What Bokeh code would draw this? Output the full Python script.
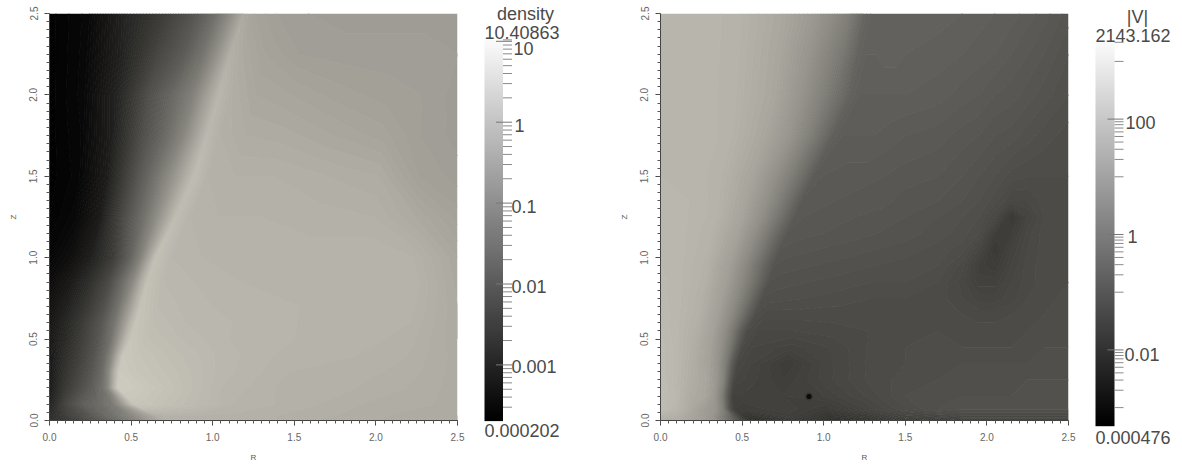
from bokeh.core.properties import value
from bokeh.embed import file_html
from bokeh.layouts import column, row
from bokeh.models import NumeralTickFormatter, LinearColorMapper, Range1d, SingleIntervalTicker
from bokeh.plotting import figure
from bokeh.resources import INLINE
import numpy as np

# Left panel: each row follows the bright ridge. Values are grey levels (0-255),
# at fractions of the way from R=0 to the ridge (8 values) and from the ridge to R=2.5 (7 values).
density_z = [2.5, 2.25, 2.0, 1.75, 1.5, 1.25, 1.0, .85, .7, .6, .5, .4, .3, .2, .1, .03, 0]
density_ridge_R = [1.19, 1.11, 1.04, .965, .89, .775, .65, .6, .56, .53, .5, .45, .43, .42, .52, .65, .75]
density_grey = [
 [3,9,38,62,85,108,138,168, 162,158,156,155,155,155,155],
 [3,9,35,70,92,115,145,174, 168,162,158,157,157,157,156],
 [3,9,36,82,108,128,158,180, 172,166,164,161,159,158,155],
 [3,8,32,80,108,132,160,182, 174,170,169,166,163,158,155],
 [3,7,30,82,118,145,168,186, 176,174,174,172,170,160,157],
 [4,9,28,78,112,140,166,186, 178,176,176,175,174,168,161],
 [8,16,33,60,95,125,160,190, 180,178,178,177,178,176,166],
 [14,26,45,72,108,135,168,190, 182,180,178,178,178,178,167],
 [20,34,54,80,112,145,172,192, 184,181,179,178,178,177,168],
 [24,40,60,85,115,148,175,193, 186,182,180,178,177,176,168],
 [26,42,62,85,112,148,178,194, 188,184,180,178,177,175,168],
 [26,45,62,82,105,135,170,196, 192,187,181,177,176,174,169],
 [26,48,66,85,105,135,175,198, 194,189,181,176,175,173,169],
 [28,52,72,90,108,130,170,200, 198,191,180,175,174,172,169],
 [35,70,95,108,122,150,175,194, 192,186,178,175,172,171,169],
 [44,68,88,112,130,148,160,172, 176,176,175,173,171,169,168],
 [48,64,88,115,140,160,170,176, 176,176,175,172,170,169,168],
]
density_left_fraction = [0, .2, .4, .6, .75, .85, .93, 1]
density_right_fraction = [.05, .15, .3, .5, .7, .85, 1]

# Right panel: each row follows the edge between the light and the dark region.
speed_z = [2.5, 2.25, 2.0, 1.75, 1.5, 1.35, 1.25, 1.15, 1.05, .95, .85, .75, .65, .55, .45, .35, .25, .15, .07, .02, 0]
speed_edge_R = [1.24, 1.2, 1.16, 1.05, .93, .86, .82, .77, .73, .69, .66, .62, .58, .53, .5, .47, .45, .44, .45, .52, .55]
speed_grey = [
 [178,180,176,166,152,138,125,102, 97,97,97,98, 98,97,96,95,94,93,91,89,85],
 [178,180,176,165,148,132,118,100, 96,96,97,97, 96,95,94,93,92,90,88,86,82],
 [179,180,176,165,145,128,112,98, 94,94,94,94, 94,93,91,90,88,87,85,83,80],
 [180,180,177,165,148,130,112,96, 92,92,92,91, 90,89,87,86,84,83,81,79,77],
 [180,180,176,163,143,125,108,92, 90,89,89,88, 87,86,84,82,80,77,76,76,76],
 [181,180,177,163,143,124,106,90, 89,88,87,87, 85,84,82,80,77,72,72,75,76],
 [181,180,177,163,142,122,104,89, 88,87,86,85, 84,82,80,78,72,56,68,74,76],
 [182,180,176,162,140,120,102,88, 87,86,85,84, 83,81,79,76,62,62,71,75,76],
 [182,180,176,160,138,118,100,86, 85,84,83,82, 81,79,77,70,56,66,72,75,76],
 [182,180,175,158,135,115,98,84, 83,82,81,80, 79,78,73,63,60,68,73,75,76],
 [183,180,175,158,135,115,97,82, 81,80,79,78, 78,76,71,65,65,70,73,75,76],
 [183,180,174,158,135,115,96,80, 79,78,77,76, 76,75,72,69,69,71,74,75,77],
 [184,180,174,158,135,114,94,78, 75,75,75,75, 76,75,74,73,73,74,75,76,77],
 [184,180,173,160,138,115,92,76, 72,72,73,74, 76,76,75,75,75,75,76,77,78],
 [185,181,172,160,140,118,92,74, 70,67,70,74, 76,77,76,76,76,76,77,78,78],
 [185,181,172,162,145,122,90,72, 69,60,69,74, 76,77,78,78,78,78,78,79,79],
 [186,181,172,165,150,130,95,70, 68,62,69,74, 77,78,79,79,79,79,80,80,80],
 [186,182,170,165,150,125,90,66, 66,64,66,72, 78,79,80,80,80,80,81,81,81],
 [186,180,168,155,148,125,85,64, 62,66,60,68, 76,80,81,81,81,81,81,81,81],
 [176,172,162,150,120,95,70,55, 52,62,52,58, 66,68,70,70,70,70,70,70,70],
 [172,170,160,145,115,88,65,52, 48,58,48,52, 62,64,66,66,66,66,66,66,66],
]
speed_left_fraction = [0, .2, .4, .6, .75, .85, .93, 1]
speed_mid_fraction = [.25, .5, .75]
speed_fixed_R = [1.5, 1.7, 1.85, 1.95, 2.05, 2.15, 2.25, 2.35, 2.5]
speed_dark_spot_R = [0.91]
speed_dark_spot_Z = [0.147]

density_min, density_max = 0.000202, 10.40863
speed_min, speed_max = 0.000476, 2143.162
density_major = [10, 1, 0.1, 0.01, 0.001]
density_major_labels = ["10", "1", "0.1", "0.01", "0.001"]
density_minor = [10.40863, 9, 8, 7, 6, 5, 4, 3, 2, .9, .8, .7, .6, .5, .4, .3, .2, .09, .08, .07, .06, .05, .04,
                 .03, .02, .009, .008, .007, .006, .005, .004, .003, .002, .0009, .0008, .0007, .0006, .0005,
                 .0004, .0003]
speed_major = [100, 1, 0.01]
speed_major_labels = ["100", "1", "0.01"]
speed_minor = [2143.162, 1000, 90, 80, 70, 60, 50, 40, 30, 20, 10, .9, .8, .7, .6, .5, .4, .3, .2, .1,
               .009, .008, .007, .006, .005, .004, .003, .002, .001]


def warm(g):
    return "#%02x%02x%02x" % (min(255, round(g * 1.03)), min(255, round(g * 1.015)), round(g * 0.965))


LEVELS = list(range(0, 258, 2))
WARM = [warm(g) for g in LEVELS[:-1]]
WARM_LINES = [warm(g) for g in LEVELS]
GREY = ["#%02x%02x%02x" % (g, g, g) for g in range(256)]
FONT = "Liberation Sans"
H = 464


def panel(xs, ys, grid, width, left, right):
    p = figure(width=width, height=H, x_range=Range1d(0, 2.5), y_range=Range1d(0, 2.5),
               toolbar_location=None, output_backend="svg", min_border_left=left, min_border_right=right,
               min_border_top=13, min_border_bottom=43, x_axis_label="R", y_axis_label="Z")
    p.contour(xs, ys, np.array(grid, dtype=float), levels=LEVELS, fill_color=WARM, line_color=WARM_LINES, line_width=1.2)
    p.grid.visible = False
    p.outline_line_color = None
    for ax in (p.xaxis[0], p.yaxis[0]):
        ax.ticker = SingleIntervalTicker(interval=0.5, num_minor_ticks=10)
        ax.formatter = NumeralTickFormatter(format="0.0")
        ax.major_tick_in = 0
        ax.major_tick_out = 5
        ax.minor_tick_in = 0
        ax.minor_tick_out = 3
        ax.axis_line_color = "#444444"
        ax.major_tick_line_color = "#444444"
        ax.minor_tick_line_color = "#555555"
        ax.major_label_text_font = FONT
        ax.major_label_text_font_size = "10px"
        ax.major_label_text_color = "#666666"
        ax.axis_label_text_font = FONT
        ax.axis_label_text_font_size = "8px"
        ax.axis_label_text_font_style = "normal"
        ax.axis_label_text_color = "#555555"
        ax.axis_label_standoff = 9
        ax.major_label_standoff = 7
    p.yaxis[0].major_label_orientation = "vertical"
    return p


def bar(x0, width, bar_x, bar_w, decade_px, one_px, low, high, major, labels, minor, label_xs, label_offs, texts):
    to_val = lambda py: 10 ** ((one_px - py) / decade_px)
    p = figure(width=width, height=H, y_axis_type="log", x_range=Range1d(x0, x0 + width),
               y_range=Range1d(to_val(H), to_val(0)), toolbar_location=None, output_backend="svg",
               min_border=0, x_axis_location=None, y_axis_location=None, outline_line_color=None)
    ramp = np.linspace(0, 250, 256).reshape(-1, 1)
    p.image(image=[ramp], x=bar_x, y=low, dw=bar_w, dh=high - low,
            color_mapper=LinearColorMapper(palette=GREY, low=0, high=255))
    p.grid.visible = False
    right = bar_x + bar_w
    p.segment(x0=[right] * len(minor), x1=[right + 9] * len(minor), y0=minor, y1=minor, line_color="#8a8a8a", line_width=1)
    p.segment(x0=[right - 7] * len(major), x1=[right + 9] * len(major), y0=major, y1=major, line_color="#777777", line_width=1)
    p.text(x=label_xs, y=major, text=labels, y_offset=label_offs, text_font=value(FONT), text_font_size="18px",
           text_color="#4a4a4a", text_baseline="middle", text_align="left")
    for s, x, py, align in texts:
        p.text(x=[x], y=[to_val(py)], text=[s], text_font=value(FONT), text_font_size="18px",
               text_color="#4a4a4a", text_baseline="middle", text_align=align)
    return p


left_x = np.array([[r * f for f in density_left_fraction] + [r + (2.5 - r) * g for g in density_right_fraction]
                   for r in density_ridge_R])
left_y = np.array([[z] * 15 for z in density_z])
right_x = np.array([[b * f for f in speed_left_fraction] + [b + .06]
                    + [b + .06 + (1.5 - b - .06) * m for m in speed_mid_fraction] + speed_fixed_R
                    for b in speed_edge_R])
right_y = np.array([[z] * 21 for z in speed_z])

p1 = panel(left_x[::-1], left_y[::-1], density_grey[::-1], 480, 49, 23)
b1 = bar(480, 120, 484, 18.5, 80.9, 121.7, density_min, density_max, density_major, density_major_labels, density_minor,
         [513, 514, 511, 511, 511], [7, 3, 3, 2, 2],
         [("density", 525, 13, "center"), ("10.40863", 484, 32, "left"), ("0.000202", 484, 430, "left")])
p2 = panel(right_x[::-1], right_y[::-1], speed_grey[::-1], 490, 60, 22)
p2.scatter(speed_dark_spot_R, speed_dark_spot_Z, size=8, color="#222222", alpha=0.35, line_color=None)
p2.scatter(speed_dark_spot_R, speed_dark_spot_Z, size=5, color="#0a0a0a", line_color=None)
b2 = bar(1090, 92, 1095, 19, 57.7, 234.0, speed_min, speed_max, speed_major, speed_major_labels, speed_minor,
         [1125, 1127, 1124], [3, 2, 5],
         [("|V|", 1137, 16, "center"), ("2143.162", 1095, 35, "left"), ("0.000476", 1095, 437, "left")])

open("out.html", "w").write(file_html(row(column(p1), column(b1), column(p2), column(b2), spacing=0), INLINE))
